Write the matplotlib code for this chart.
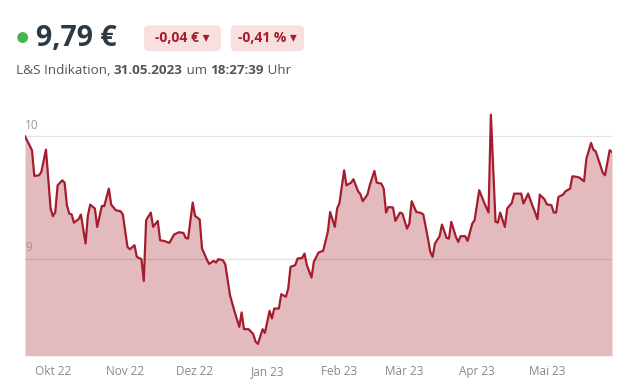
import numpy as np
import pandas as pd
import matplotlib.pyplot as plt
from matplotlib.patches import Ellipse, FancyBboxPatch
from matplotlib.transforms import IdentityTransform

plt.rcParams['font.family'] = ['Open Sans', 'DejaVu Sans']

# daily-ish kurse
dates = ['2022-09-19', '2022-09-22', '2022-09-23', '2022-09-25', '2022-09-26', '2022-09-28',
         '2022-09-29', '2022-09-30', '2022-10-01', '2022-10-02', '2022-10-03', '2022-10-05',
         '2022-10-06', '2022-10-07', '2022-10-08', '2022-10-09', '2022-10-10', '2022-10-12',
         '2022-10-13', '2022-10-15', '2022-10-16', '2022-10-17', '2022-10-19', '2022-10-20',
         '2022-10-22', '2022-10-23', '2022-10-25', '2022-10-26', '2022-10-28', '2022-10-30',
         '2022-10-31', '2022-11-02', '2022-11-03', '2022-11-05', '2022-11-06', '2022-11-08',
         '2022-11-09', '2022-11-10', '2022-11-12', '2022-11-13', '2022-11-15', '2022-11-16',
         '2022-11-18', '2022-11-20', '2022-11-22', '2022-11-24', '2022-11-26', '2022-11-27',
         '2022-11-28', '2022-11-30', '2022-12-01', '2022-12-03', '2022-12-04', '2022-12-06',
         '2022-12-07', '2022-12-09', '2022-12-10', '2022-12-11', '2022-12-13', '2022-12-14',
         '2022-12-16', '2022-12-18', '2022-12-20', '2022-12-21', '2022-12-22', '2022-12-24',
         '2022-12-26', '2022-12-27', '2022-12-28', '2022-12-30', '2022-12-31', '2023-01-02',
         '2023-01-03', '2023-01-04', '2023-01-06', '2023-01-07', '2023-01-09', '2023-01-10',
         '2023-01-11', '2023-01-13', '2023-01-14', '2023-01-16', '2023-01-17', '2023-01-18',
         '2023-01-20', '2023-01-21', '2023-01-23', '2023-01-25', '2023-01-27', '2023-01-28',
         '2023-01-30', '2023-01-31', '2023-02-01', '2023-02-03', '2023-02-04', '2023-02-06',
         '2023-02-07', '2023-02-09', '2023-02-10', '2023-02-11', '2023-02-13', '2023-02-14',
         '2023-02-16', '2023-02-17', '2023-02-19', '2023-02-20', '2023-02-21', '2023-02-22',
         '2023-02-24', '2023-02-25', '2023-02-27', '2023-02-28', '2023-03-02', '2023-03-03',
         '2023-03-04', '2023-03-06', '2023-03-08', '2023-03-09', '2023-03-11', '2023-03-12',
         '2023-03-13', '2023-03-14', '2023-03-16', '2023-03-17', '2023-03-19', '2023-03-20',
         '2023-03-21', '2023-03-23', '2023-03-24', '2023-03-25', '2023-03-27', '2023-03-28',
         '2023-03-30', '2023-03-31', '2023-04-02', '2023-04-03', '2023-04-04', '2023-04-06',
         '2023-04-07', '2023-04-09', '2023-04-10', '2023-04-11', '2023-04-13', '2023-04-14',
         '2023-04-16', '2023-04-17', '2023-04-20', '2023-04-21', '2023-04-23', '2023-04-24',
         '2023-04-26', '2023-04-27', '2023-04-28', '2023-04-30', '2023-05-01', '2023-05-03',
         '2023-05-04', '2023-05-05', '2023-05-06', '2023-05-08', '2023-05-09', '2023-05-11',
         '2023-05-12', '2023-05-14', '2023-05-15', '2023-05-17', '2023-05-18', '2023-05-20',
         '2023-05-21', '2023-05-22', '2023-05-24', '2023-05-25', '2023-05-26', '2023-05-28',
         '2023-05-29']
kurs = [10.00, 9.886, 9.676, 9.681, 9.708, 9.891,
        9.654, 9.409, 9.346, 9.381, 9.599, 9.640,
        9.621, 9.436, 9.368, 9.362, 9.294, 9.322,
        9.360, 9.123, 9.354, 9.441, 9.409, 9.259,
        9.431, 9.428, 9.572, 9.441, 9.395, 9.387,
        9.360, 9.095, 9.076, 9.109, 9.014, 8.995,
        8.817, 9.313, 9.376, 9.259, 9.308, 9.150,
        9.142, 9.128, 9.196, 9.215, 9.210, 9.169,
        9.163, 9.458, 9.349, 9.319, 9.082, 8.995,
        8.956, 8.981, 8.967, 8.995, 8.986, 8.951,
        8.700, 8.564, 8.441, 8.559, 8.422, 8.422,
        8.381, 8.319, 8.302, 8.422, 8.392, 8.572,
        8.510, 8.591, 8.591, 8.708, 8.687, 8.755,
        8.932, 8.946, 9.000, 9.005, 9.041, 8.946,
        8.845, 8.973, 9.049, 9.063, 9.218, 9.381,
        9.259, 9.409, 9.455, 9.722, 9.599, 9.621,
        9.649, 9.550, 9.526, 9.469, 9.523, 9.599,
        9.717, 9.621, 9.613, 9.572, 9.376, 9.422,
        9.417, 9.308, 9.376, 9.368, 9.245, 9.286,
        9.469, 9.381, 9.373, 9.360, 9.163, 9.054,
        9.014, 9.123, 9.183, 9.278, 9.169, 9.163,
        9.300, 9.177, 9.136, 9.183, 9.183, 9.144,
        9.286, 9.313, 9.559, 9.512, 9.463, 9.376,
        10.177, 9.300, 9.294, 9.376, 9.259, 9.409,
        9.455, 9.531, 9.531, 9.450, 9.531, 9.477,
        9.376, 9.322, 9.523, 9.485, 9.444, 9.436,
        9.376, 9.376, 9.504, 9.523, 9.550, 9.572,
        9.673, 9.668, 9.662, 9.632, 9.817, 9.946,
        9.891, 9.877, 9.763, 9.703, 9.681, 9.886,
        9.872]

monate = ['2022-10-01', '2022-11-01', '2022-12-01', '2023-01-01',
          '2023-02-01', '2023-03-01', '2023-04-01', '2023-05-01']
monat_labels = ['Okt 22', 'Nov 22', 'Dez 22', 'Jan 23', 'Feb 23', 'Mär 23', 'Apr 23', 'Mai 23']
y_labels = [9, 10]

kurs_aktuell = '9,79 €'
diff_abs = '-0,04 € \u25BE'
diff_rel = '-0,41 % \u25BE'

LINIE = '#a51d2d'
FLAECHE = '#e3babe'
W, H = 634, 384

x = pd.to_datetime(dates)
ymin, ymax = 8.205, 10.253

fig = plt.figure(figsize=(W / 100, H / 100), dpi=100)
ax = fig.add_axes([25 / W, 28.3 / H, 587 / W, 250.3 / H])
ax.fill_between(x, kurs, ymin, color=FLAECHE, lw=0, zorder=1)
ax.plot(x, kurs, color=LINIE, lw=1.6, solid_joinstyle='round', zorder=4)
for yv in y_labels:
    ax.axhline(yv, color='black', alpha=0.11, lw=0.9, zorder=3)
    ax.annotate(str(yv), (0, yv), xycoords=ax.get_yaxis_transform(),
                xytext=(0, 3), textcoords='offset points',
                ha='left', va='bottom', fontsize=8.5, color='#999999')
ax.set_xlim(x[0], x[-1])
ax.set_ylim(ymin, ymax)
ax.set_yticks([])
ax.set_xticks(pd.to_datetime(monate))
ax.set_xticklabels(monat_labels, fontsize=8.5, color='#888888')
ax.tick_params(axis='x', length=0, pad=7)
for s in ax.spines.values():
    s.set_visible(False)

# kopfzeile, in pixeln (y von oben)
px_t = IdentityTransform()
def py(v):
    return H - v

fig.add_artist(Ellipse((22.7, py(37.5)), 9.5, 9.5, transform=px_t, color='#45b649'))
fig.text(36, py(38.5), kurs_aktuell, fontsize=20.5, fontweight='bold', color='#2c3a44',
         va='center', ha='left', transform=px_t)

for (x0, x1), txt in [((144, 221), diff_abs), ((230.7, 304), diff_rel)]:
    fig.add_artist(FancyBboxPatch((x0, py(51.3)), x1 - x0, 26,
                                  boxstyle='round,pad=0,rounding_size=5',
                                  transform=px_t, fc='#f9e0e0', ec='none'))
    fig.text((x0 + x1) / 2, py(38.5), txt, fontsize=10, fontweight='bold', color=LINIE,
             va='center', ha='center', transform=px_t)

# untertitel mit fett gedruckten teilen
teile = [('L&S Indikation, ', 'normal'), ('31.05.2023', 'bold'), (' um ', 'normal'),
         ('18:27:39', 'bold'), (' Uhr', 'normal')]
r = fig.canvas.get_renderer()
px = 16
for txt, wgt in teile:
    t = fig.text(px, py(71), txt, fontsize=9.7, fontweight=wgt, color='#555555',
                 va='center', ha='left', transform=px_t)
    px = t.get_window_extent(r).x1

fig.savefig('out.png', dpi=100)
